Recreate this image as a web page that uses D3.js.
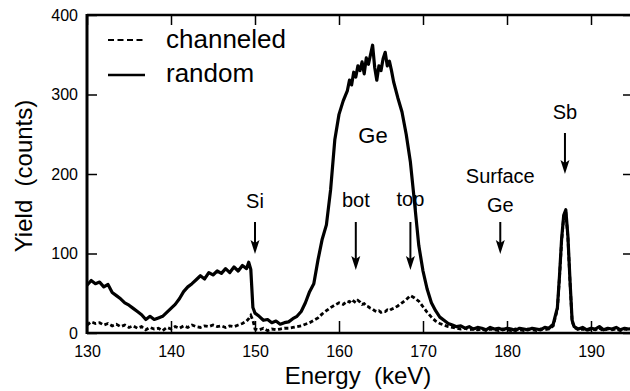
<!DOCTYPE html>
<html><head><meta charset="utf-8">
<script src="https://cdn.jsdelivr.net/npm/d3@7/dist/d3.min.js"></script>
<style>
html,body{margin:0;padding:0;background:#fff;}
svg{display:block;font-family:"Liberation Sans",Arial,Helvetica,sans-serif;}
</style></head>
<body><svg id="c" width="630" height="391"></svg>
<script>
// Energy channels (keV)
const energy = [
130,130.5,131,131.5,132,132.5,133,133.5,134,134.5,
135,135.5,136,136.5,137,137.5,138,138.5,139,139.5,
140,140.5,141,141.5,142,142.5,143,143.5,144,144.5,
145,145.5,146,146.5,147,147.5,148,148.5,149,
149.25,149.5,149.75,
150,150.5,151,151.5,152,152.5,153,153.5,154,154.5,
155,155.5,156,156.5,157,157.5,158,158.5,159,159.5,160,160.5,161,
161.25,161.5,161.75,162,162.25,162.5,162.75,163,163.25,163.5,163.75,164,
164.25,164.5,164.75,165,165.25,165.5,165.75,166,166.25,166.5,
167,167.5,168,168.5,169,169.5,170,170.5,171,171.5,
172,172.5,173,173.5,174,174.5,175,175.5,176,176.5,
177,177.5,178,178.5,179,179.5,180,180.5,181,181.5,
182,182.5,183,183.5,184,184.5,185,185.5,186,
186.25,186.5,186.75,187,187.25,187.5,187.75,188,
188.5,189,189.5,190,190.5,191,191.5,192,192.5,193,193.5,194,194.5,195
];
// Random spectrum (counts)
const random = [
60,66,62,64,58,61,51,47,43,38,
35,31,27,23,17,21,17,19,21,26,
31,36,43,52,58,62,67,72,68,76,
73,78,75,81,76,83,78,85,81,
89,80,32,
25,21,16,17,13,15,11,13,14,18,
21,27,38,52,62,92,118,136,180,243,275,292,305,
318,312,328,322,336,330,341,326,346,338,350,362,
334,318,336,330,345,353,336,342,330,316,
296,278,250,215,163,110,78,55,38,28,
20,16,12,10,8,9,6,8,5,7,
6,4,7,5,6,4,6,5,3,6,
5,4,6,5,4,7,6,11,32,
72,118,148,155,122,66,16,8,
5,7,4,6,5,8,4,6,5,7,4,6,5,6
];
// Channeled spectrum (counts)
const channeled = [
10,14,12,13,10,12,9,11,8,10,
7,9,6,8,4,7,5,6,3,7,
5,8,6,9,7,10,8,7,9,8,
10,8,9,7,9,8,10,12,15,
18,22,16,
5,4,6,3,5,4,5,6,6,7,
8,9,11,13,16,19,24,28,32,35,38,36,40,
39,42,40,38,41,39,36,37,34,33,31,30,
28,27,28,26,27,27,29,28,30,31,
34,38,42,47,44,40,33,26,20,15,
12,10,8,7,6,5,6,4,5,4,
5,3,5,4,3,5,4,3,5,4,
3,5,4,3,5,4,5,9,30,
70,115,146,152,120,64,15,7,
4,5,3,5,4,6,3,5,4,5,3,5,4,5
];
const xTicks = [130,140,150,160,170,180,190];
const yTicks = [0,100,200,300,400];
const legendLabels = ["channeled","random"];
const annotations = [
  {lines:["Si"], e:150, textY:[208], a0:222, a1:254},
  {lines:["bot"], e:162, textY:[207], a0:222, a1:270},
  {lines:["top"], e:168.5, textY:[206], a0:222, a1:270},
  {lines:["Surface","Ge"], e:179.2, textY:[183,212], a0:222, a1:254},
  {lines:["Sb"], e:186.9, textY:[119], a0:133, a1:174}
];

const svg = d3.select("#c");
const L=87, T=15, B=333, R=633;
const x = d3.scaleLinear().domain([130,195]).range([L,R]);
const y = d3.scaleLinear().domain([0,400]).range([B,T]);

svg.append("defs").append("clipPath").attr("id","clip").append("rect")
  .attr("x",L).attr("y",T).attr("width",R-L).attr("height",B-T);

const line = (vals)=> d3.line().x((d,i)=>x(energy[i])).y(d=>y(d))(vals);
const g = svg.append("g").attr("clip-path","url(#clip)");
g.append("path").attr("d",line(channeled)).attr("fill","none")
  .attr("stroke","#000").attr("stroke-width",2.8).attr("stroke-dasharray","4,2.5");
g.append("path").attr("d",line(random)).attr("fill","none")
  .attr("stroke","#000").attr("stroke-width",3.2).attr("stroke-linejoin","round");

// axes
const tf = "Liberation Sans, Arial, sans-serif";
const ax = svg.append("g").attr("transform",`translate(0,${B})`)
  .call(d3.axisBottom(x).tickValues(xTicks).tickSize(-12).tickSizeOuter(0).tickPadding(13));
ax.selectAll("text").attr("font-size",16).attr("fill","#000").attr("font-family",tf);
const at = svg.append("g").attr("transform",`translate(0,${T})`)
  .call(d3.axisTop(x).tickValues(xTicks).tickSize(-10).tickSizeOuter(0).tickFormat(""));
const ay = svg.append("g").attr("transform",`translate(${L},0)`)
  .call(d3.axisLeft(y).tickValues(yTicks).tickSize(-10).tickSizeOuter(0).tickPadding(9));
ay.selectAll("text").attr("font-size",16).attr("fill","#000").attr("font-family",tf);
const ar = svg.append("g").attr("transform",`translate(631,0)`)
  .call(d3.axisRight(y).tickValues(yTicks).tickSize(-8).tickSizeOuter(0).tickFormat(""));
[ax,at,ay,ar].forEach(a=>{a.select(".domain").remove();a.selectAll("line").attr("stroke","#000").attr("stroke-width",1.5);});

// frame
svg.append("line").attr("x1",L).attr("x2",L).attr("y1",T-1).attr("y2",B+1).attr("stroke","#000").attr("stroke-width",3);
svg.append("line").attr("x1",L).attr("x2",R).attr("y1",T).attr("y2",T).attr("stroke","#000").attr("stroke-width",2.4);
svg.append("line").attr("x1",L).attr("x2",R).attr("y1",B).attr("y2",B).attr("stroke","#000").attr("stroke-width",2.4);

// axis titles
svg.append("text").attr("transform","translate(32,176) rotate(-90)").attr("text-anchor","middle")
  .attr("font-size",24).attr("xml:space","preserve").text("Yield  (counts)");
svg.append("text").attr("x",358).attr("y",384).attr("text-anchor","middle")
  .attr("font-size",24).attr("xml:space","preserve").text("Energy  (keV)");

// legend
const lg = svg.append("g");
lg.append("line").attr("x1",108).attr("x2",143).attr("y1",40).attr("y2",40)
  .attr("stroke","#000").attr("stroke-width",2).attr("stroke-dasharray","6,3.5");
lg.append("line").attr("x1",108).attr("x2",145).attr("y1",75).attr("y2",75)
  .attr("stroke","#000").attr("stroke-width",2.6);
lg.selectAll("text").data(legendLabels).join("text")
  .attr("x",166).attr("y",(d,i)=>[48,82][i]).attr("font-size",26).text(d=>d);

// Ge label
svg.append("text").attr("x",373).attr("y",143).attr("text-anchor","middle").attr("font-size",22).text("Ge");

// annotations with arrows
annotations.forEach(a=>{
  const cx = x(a.e);
  a.lines.forEach((t,i)=>svg.append("text").attr("x",cx).attr("y",a.textY[i])
    .attr("text-anchor","middle").attr("font-size",20).text(t));
  svg.append("line").attr("x1",cx).attr("x2",cx).attr("y1",a.a0).attr("y2",a.a1-8)
    .attr("stroke","#000").attr("stroke-width",2);
  svg.append("path").attr("fill","#000")
    .attr("d",`M${cx-4.5},${a.a1-14} L${cx},${a.a1-11} L${cx+4.5},${a.a1-14} L${cx},${a.a1} Z`);
});
</script></body></html>
